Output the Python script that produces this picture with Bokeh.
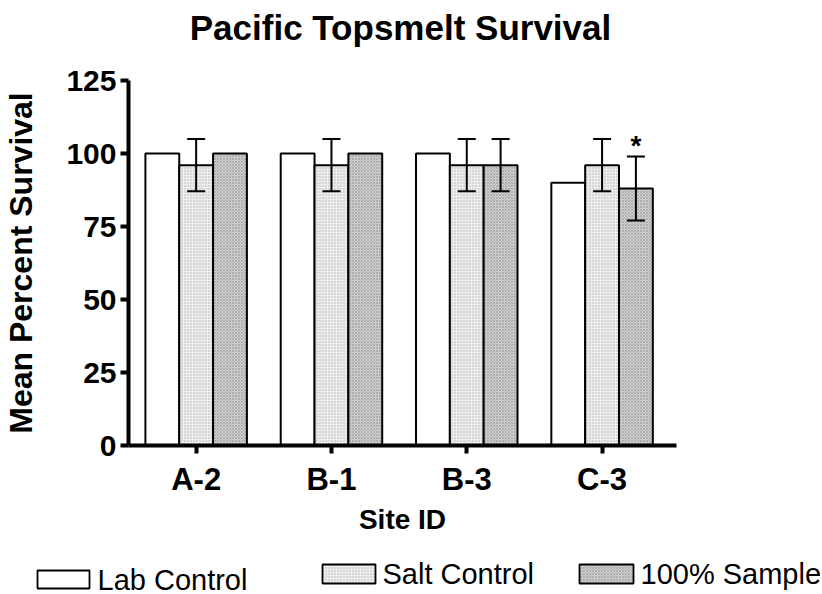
from bokeh.plotting import figure
from bokeh.models import Range1d, FixedTicker, ColumnDataSource, Whisker, TeeHead, Label
from bokeh.layouts import column
from bokeh.embed import file_html
from bokeh.resources import INLINE

# Mean percent survival per site and treatment, with standard deviations
sites = ["A-2", "B-1", "B-3", "C-3"]
series_names = ["Lab Control", "Salt Control", "100% Sample"]
lab_control = [100, 100, 100, 90]
salt_control = [96, 96, 96, 96]
sample_100 = [100, 100, 96, 88]
lab_control_sd = [0, 0, 0, 0]
salt_control_sd = [8.94, 8.94, 8.94, 8.94]
sample_100_sd = [0, 0, 8.94, 10.95]
sample_100_flags = ["", "", "", "*"]
y_ticks = [0, 25, 50, 75, 100, 125]

FONT = "Liberation Sans"
W = 822
TITLE_H, LEGEND_H, PAGE_H = 55, 49, 594

# fill style of each treatment
styles = [
    dict(fill_color="white"),
    dict(fill_color="#ededed", hatch_pattern="dot", hatch_color="#b4b4b4",
         hatch_scale=3, hatch_weight=1),
    dict(fill_color="#d2d2d2", hatch_pattern="diagonal_cross", hatch_color="#a4a4a4",
         hatch_scale=3, hatch_weight=0.8),
]
offsets = [-0.25, 0.0, 0.25]
bar_width = 0.25


def strip(y_top, y_bottom):
    """A bare canvas strip whose data units are page pixels."""
    f = figure(width=W, height=y_bottom - y_top, x_range=Range1d(0, W),
               y_range=Range1d(y_bottom, y_top), output_backend="svg",
               toolbar_location=None, min_border_left=0, min_border_right=0,
               min_border_top=0, min_border_bottom=0)
    f.frame_align = False
    f.outline_line_color = None
    f.axis.visible = False
    f.xgrid.visible = False
    f.ygrid.visible = False
    return f


# ---- title strip
head = strip(0, TITLE_H)
head.add_layout(Label(x=400, y=27, text="Pacific Topsmelt Survival", text_align="center",
                      text_baseline="middle", text_font=FONT, text_font_style="bold",
                      text_font_size="35px", text_color="black"))

# ---- main chart
main_h = PAGE_H - TITLE_H - LEGEND_H
p = figure(width=W, height=main_h, x_range=Range1d(-0.5, 3.55), y_range=Range1d(0, 125),
           output_backend="svg", toolbar_location=None,
           min_border_left=125, min_border_right=146, min_border_top=80 - TITLE_H,
           min_border_bottom=TITLE_H + main_h - 445)
p.outline_line_color = None
p.xgrid.visible = False
p.ygrid.visible = False
p.background_fill_color = "white"
p.border_fill_color = "white"

values = [lab_control, salt_control, sample_100]
errors = [lab_control_sd, salt_control_sd, sample_100_sd]

for vals, sds, style, off in zip(values, errors, styles, offsets):
    xs = [i + off for i in range(len(sites))]
    src = ColumnDataSource(dict(x=xs, top=vals))
    p.vbar(x="x", top="top", bottom=0, width=bar_width, source=src,
           line_color="black", line_width=2, **style)
    ex = [x for x, s in zip(xs, sds) if s > 0]
    em = [v for v, s in zip(vals, sds) if s > 0]
    es = [s for s in sds if s > 0]
    if ex:
        esrc = ColumnDataSource(dict(base=ex, upper=[m + s for m, s in zip(em, es)],
                                     lower=[m - s for m, s in zip(em, es)]))
        w = Whisker(base="base", upper="upper", lower="lower", source=esrc,
                    line_color="black", line_width=2, level="annotation",
                    upper_head=TeeHead(size=18, line_width=2, line_color="black"),
                    lower_head=TeeHead(size=18, line_width=2, line_color="black"))
        p.add_layout(w)

# significance marks above the 100% sample bars
for i, flag in enumerate(sample_100_flags):
    if flag:
        p.add_layout(Label(x=i + offsets[2], y=sample_100[i] + sample_100_sd[i], text=flag,
                           text_align="center", text_baseline="alphabetic", y_offset=11,
                           text_font=FONT, text_font_style="bold", text_font_size="28px",
                           text_color="black"))

for ax in (p.xaxis[0], p.yaxis[0]):
    ax.axis_line_width = 4
    ax.axis_line_color = "black"
    ax.major_tick_line_width = 4
    ax.major_tick_line_color = "black"
    ax.major_tick_out = 8
    ax.major_tick_in = 0
    ax.minor_tick_out = 0
    ax.minor_tick_in = 0
    ax.major_label_text_font = FONT
    ax.major_label_text_font_style = "bold"
    ax.major_label_text_color = "black"
    ax.axis_label_text_font = FONT
    ax.axis_label_text_font_style = "bold"
    ax.axis_label_text_color = "black"

p.xaxis.ticker = FixedTicker(ticks=list(range(len(sites))))
p.xaxis.major_label_overrides = {i: s for i, s in enumerate(sites)}
p.xaxis.major_label_text_font_size = "31px"
p.xaxis.major_label_standoff = 8
p.xaxis.axis_label = "Site ID"
p.xaxis.axis_label_text_font_size = "28px"
p.xaxis.axis_label_standoff = 4

p.yaxis.ticker = FixedTicker(ticks=y_ticks)
p.yaxis.major_label_text_font_size = "30px"
p.yaxis.major_label_standoff = 4
p.yaxis.axis_label = "Mean Percent Survival"
p.yaxis.axis_label_text_font_size = "32px"
p.yaxis.axis_label_standoff = 24

# ---- legend strip: swatch (left, right, top, bottom) and label position, in page px
key = strip(PAGE_H - LEGEND_H, PAGE_H)
legend_boxes = [(37, 89, 570, 588), (322, 375, 564, 583), (579, 633, 564, 583)]
legend_text = [(97, 579), (382, 573.5), (640, 573.5)]
for name, style, (l, r, t, b), (tx, ty) in zip(series_names, styles, legend_boxes, legend_text):
    key.quad(left=l, right=r, top=t, bottom=b, line_color="black", line_width=1.8, **style)
    key.add_layout(Label(x=tx, y=ty, text=name, text_align="left", text_baseline="middle",
                         text_font=FONT, text_font_size="29px", text_color="black"))

layout = column(head, p, key, spacing=0)
open("out.html", "w").write(file_html(layout, INLINE))
